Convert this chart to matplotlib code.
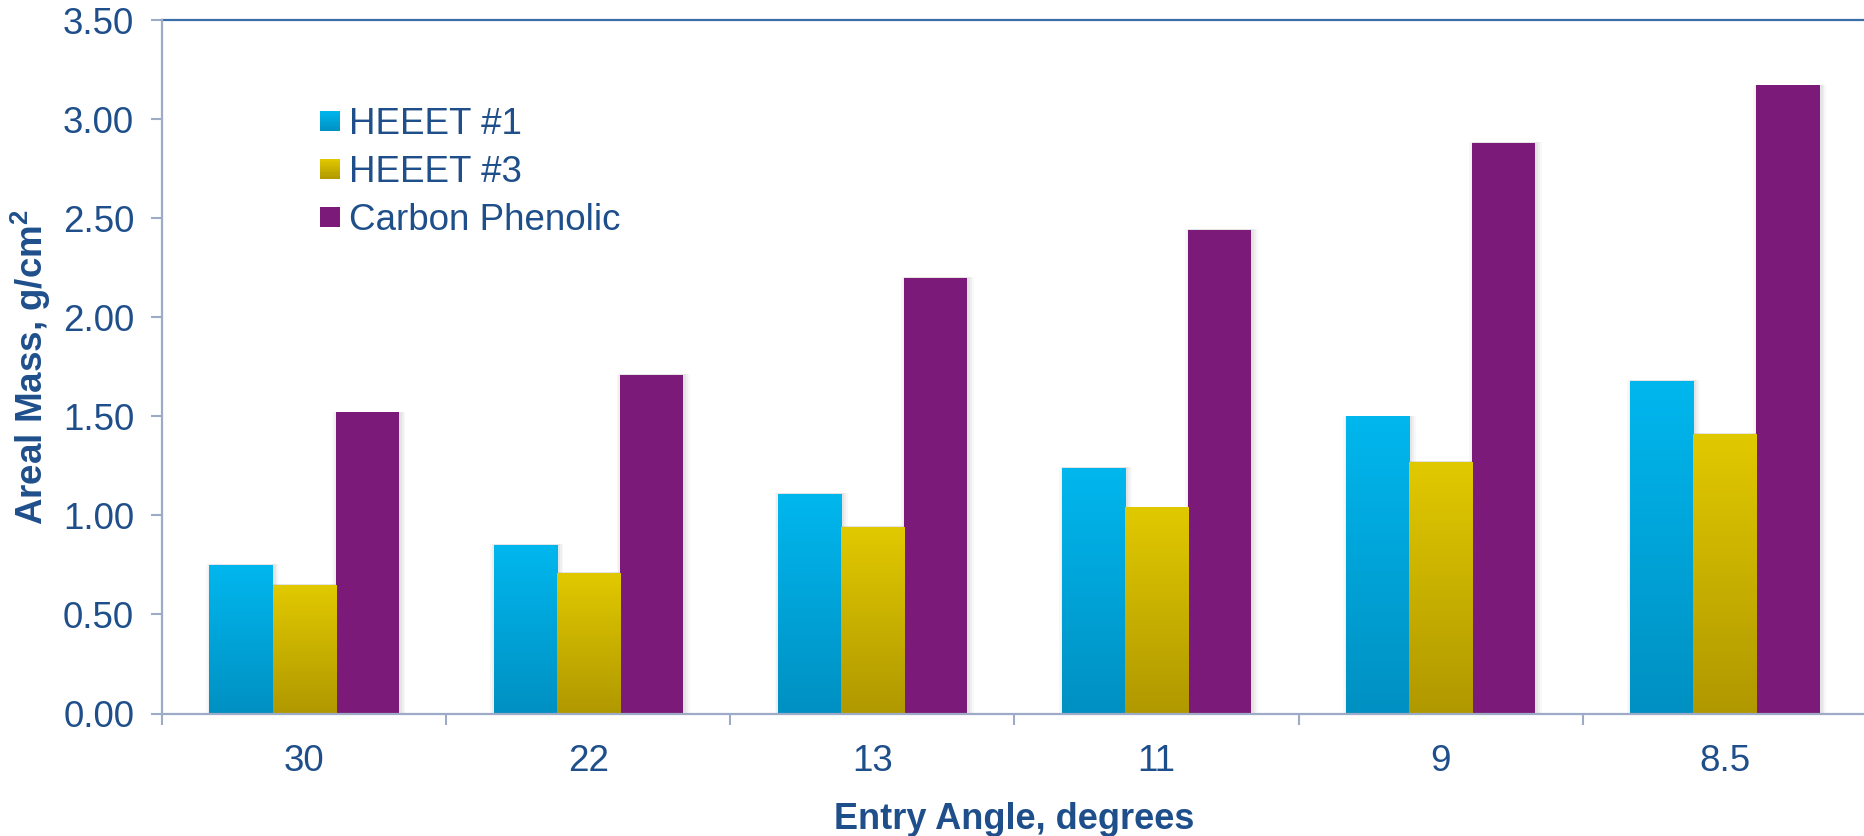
import matplotlib
matplotlib.use("Agg")
import matplotlib.pyplot as plt
import numpy as np
from matplotlib.colors import LinearSegmentedColormap
from matplotlib.legend_handler import HandlerBase
from matplotlib.patches import Patch, Rectangle
from matplotlib.ticker import FixedLocator, FormatStrFormatter

plt.rcParams["font.family"] = ["Liberation Sans", "DejaVu Sans"]
plt.rcParams["mathtext.fontset"] = "custom"
plt.rcParams["mathtext.rm"] = "Liberation Sans"
plt.rcParams["mathtext.bf"] = "Liberation Sans:bold"

angles = ["30", "22", "13", "11", "9", "8.5"]
heeet_1 = [0.75, 0.85, 1.11, 1.24, 1.50, 1.68]
heeet_3 = [0.65, 0.71, 0.94, 1.04, 1.27, 1.41]
carbon_phenolic = [1.52, 1.71, 2.20, 2.44, 2.88, 3.17]

series_names = ["HEEET #1", "HEEET #3", "Carbon Phenolic"]
# (top colour, bottom colour) of each bar fill
series_fills = [("#00b7ee", "#0090c2"), ("#e1c900", "#b09800"), ("#7b1a78", "#7b1a78")]

TEXT = "#1f4f8b"
AXIS = "#9eabc6"
FRAME = "#3a6ea6"


class GradientHandler(HandlerBase):
    def __init__(self, top, bottom, steps=12):
        super().__init__()
        self.top, self.bottom, self.steps = top, bottom, steps

    def create_artists(self, legend, orig_handle, xdescent, ydescent,
                       width, height, fontsize, trans):
        cmap = LinearSegmentedColormap.from_list("g", [self.bottom, self.top])
        side = min(width, height)
        x0 = -xdescent + (width - side) / 2
        y0 = -ydescent + (height - side) / 2
        step = side / self.steps
        strips = []
        for i in range(self.steps):
            r = Rectangle((x0, y0 + i * step), side, step * 1.05,
                          facecolor=cmap((i + 0.5) / self.steps),
                          edgecolor="none", transform=trans)
            strips.append(r)
        return strips


fig = plt.figure(figsize=(18.64, 8.36), dpi=100)
ax = fig.add_axes([0.0869, 0.1465, 0.9147, 0.8295])

x = np.arange(len(angles))
width = 0.222
offsets = [-width, 0.0, width]
values = [heeet_1, heeet_3, carbon_phenolic]

grad = np.linspace(0, 1, 256).reshape(-1, 1)
for vals, off, (top, bottom) in zip(values, offsets, series_fills):
    # soft drop shadow behind each bar
    for k, a in zip([0.035, 0.022, 0.010], [0.05, 0.07, 0.09]):
        ax.bar(x + off + 0.006, np.array(vals) + 0.004, width + k,
               color="#7f7f7f", alpha=a, zorder=1, linewidth=0)
    bars = ax.bar(x + off, vals, width, color=top, zorder=2, linewidth=0)
    if top != bottom:
        cmap = LinearSegmentedColormap.from_list("bar", [bottom, top])
        for b in bars:
            bx, bw, bh = b.get_x(), b.get_width(), b.get_height()
            ax.imshow(grad, extent=[bx, bx + bw, 0, bh], origin="lower",
                      aspect="auto", cmap=cmap, zorder=3, interpolation="bilinear")

ax.set_xlim(-0.5, len(angles) - 0.5)
ax.set_ylim(0, 3.5)

ax.yaxis.set_major_locator(FixedLocator(np.arange(0, 3.51, 0.5)))
ax.yaxis.set_major_formatter(FormatStrFormatter("%.2f"))
ax.tick_params(axis="y", direction="out", length=8, width=1.5, color=AXIS,
               labelsize=26.5, labelcolor=TEXT, pad=12)

ax.set_xticks(x)
ax.set_xticklabels(angles)
ax.set_xticks(np.arange(-0.5, len(angles)), minor=True)
ax.tick_params(axis="x", which="major", length=0, labelsize=26.5,
               labelcolor=TEXT, pad=22)
ax.tick_params(axis="x", which="minor", direction="out", length=8,
               width=1.5, color=AXIS)

for side in ["left", "bottom"]:
    ax.spines[side].set_color(AXIS)
    ax.spines[side].set_linewidth(1.6)
    ax.spines[side].set_zorder(5)
for side in ["top", "right"]:
    ax.spines[side].set_color(FRAME)
    ax.spines[side].set_linewidth(1.6)

ax.set_xlabel("Entry Angle, degrees", fontsize=26, fontweight="bold", color=TEXT,
              va="top")
ax.xaxis.set_label_coords(0.5, -0.127)
ax.set_ylabel(r"Areal Mass, g/cm$^\mathbf{2}$", fontsize=26.5, fontweight="bold",
              color=TEXT)
ax.yaxis.set_label_coords(-0.064, 0.5)

handles = [Patch(facecolor=t, label=n) for n, (t, b) in zip(series_names, series_fills)]
handler_map = {h: GradientHandler(t, b) for h, (t, b) in zip(handles, series_fills)}
leg = ax.legend(handles=handles, handler_map=handler_map, loc="upper left",
                bbox_to_anchor=(0.0927, 0.875), frameon=False, fontsize=26.5,
                handlelength=0.54, handleheight=0.54, handletextpad=0.26,
                labelspacing=0.36, borderpad=0, borderaxespad=0)
for t in leg.get_texts():
    t.set_color(TEXT)

fig.savefig("out.png", dpi=100, facecolor="white")
